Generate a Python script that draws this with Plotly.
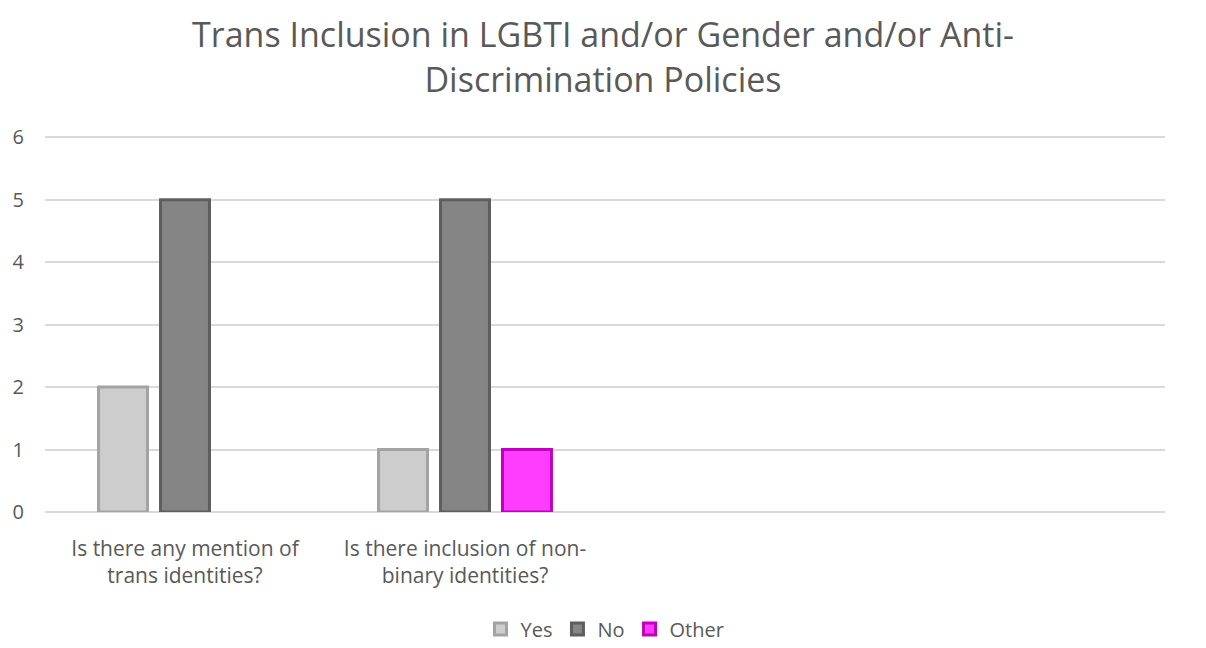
import plotly.graph_objects as go

# Policy questions (two empty slots keep the original four-column spacing)
categories = [
    "Is there any mention of<br>trans identities?",
    "Is there inclusion of non-<br>binary identities?",
    " ",
    "  ",
]
yes_counts = [2, 1, None, None]
no_counts = [5, 5, None, None]
other_counts = [None, 1, None, None]

series = [
    ("Yes", yes_counts, "#cdcdcd", "#a3a3a3"),
    ("No", no_counts, "#858585", "#5e5e5e"),
    ("Other", other_counts, "#ff3dff", "#c200c2"),
]

fig = go.Figure()
for name, vals, face, edge in series:
    fig.add_trace(go.Bar(
        name=name,
        x=categories,
        y=vals,
        marker=dict(color=face, line=dict(color=edge, width=3)),
    ))

font_family = "Open Sans, Liberation Sans, sans-serif"
text_color = "#595959"
fig.update_layout(
    width=1206,
    height=648,
    margin=dict(l=45, r=41, t=131, b=136, autoexpand=False),
    paper_bgcolor="white",
    plot_bgcolor="white",
    barmode="group",
    bargap=0.336,
    bargroupgap=0.21,
    font=dict(family=font_family, color=text_color, size=20),
    title=dict(
        text="Trans Inclusion in LGBTI and/or Gender and/or Anti-<br>Discrimination Policies",
        x=0.5,
        xanchor="center",
        y=0.927,
        yanchor="top",
        font=dict(size=34, color=text_color, family=font_family),
    ),
    xaxis=dict(
        type="category",
        showgrid=False,
        showline=False,
        ticks="",
        ticklabelstandoff=22,
        tickfont=dict(size=21, color=text_color),
    ),
    yaxis=dict(
        range=[0, 6.1],
        tickvals=[0, 1, 2, 3, 4, 5, 6],
        showgrid=True,
        gridcolor="#d9d9d9",
        gridwidth=2,
        zeroline=True,
        zerolinecolor="#d9d9d9",
        zerolinewidth=2,
        showline=False,
        ticks="",
        ticklabelstandoff=20,
        tickfont=dict(size=20, color=text_color),
    ),
    legend=dict(
        orientation="h",
        x=0.5,
        xanchor="center",
        y=-0.358,
        yanchor="bottom",
        font=dict(size=20, color=text_color),
        itemwidth=30,
        tracegroupgap=0,
    ),
)

fig.write_html("out.html")
